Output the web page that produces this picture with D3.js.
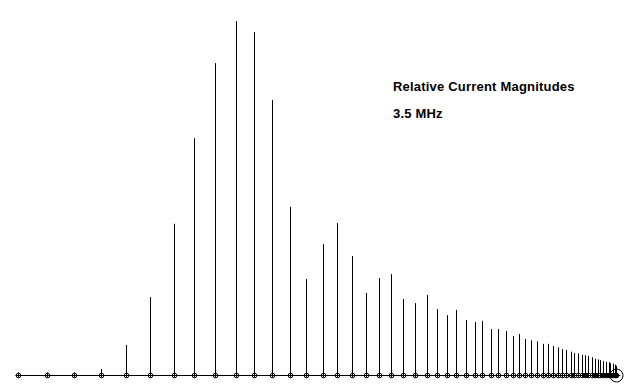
<!DOCTYPE html>
<html>
<head>
<meta charset="utf-8">
<script src="https://cdn.jsdelivr.net/npm/d3@7"></script>
<style>
  body { margin: 0; background: #fff; }
  svg { display: block; }
  .label { font-family: "Liberation Sans", Arial, sans-serif; font-weight: bold; font-size: 13px; letter-spacing: 0.2px; fill: #000; }
</style>
</head>
<body>
<div id="vis-container"></div>
<script>
// element positions along the boom (% of boom length)
var positions = [0, 4.9, 9.4, 13.9, 18.1, 22.1, 26.0, 29.5, 33.0, 36.4,
    39.5, 42.5, 45.5, 48.2, 50.9, 53.4, 55.9, 58.2, 60.4, 62.4,
    64.4, 66.4, 68.3, 70.0, 71.7, 73.2, 74.8, 76.3, 77.6, 79.0,
    80.2, 81.5, 82.7, 83.8, 84.8, 85.8, 86.7, 87.7, 88.6, 89.4,
    90.2, 90.9, 91.6, 92.4, 93.0, 93.6, 94.2, 94.8, 95.3, 95.9,
    96.4, 96.9, 97.3, 97.8, 98.3, 98.7, 99.0, 99.4, 99.7, 100];

// relative current magnitude of each element
var magnitudes = [0, 0, 0, 0.017, 0.085, 0.220, 0.427, 0.669, 0.881, 1.000,
    0.969, 0.777, 0.475, 0.271, 0.370, 0.429, 0.336, 0.232, 0.274, 0.285,
    0.215, 0.203, 0.226, 0.186, 0.169, 0.184, 0.155, 0.150, 0.153, 0.130,
    0.130, 0.124, 0.110, 0.116, 0.102, 0.098, 0.095, 0.088, 0.088, 0.082,
    0.078, 0.073, 0.071, 0.066, 0.062, 0.061, 0.057, 0.056, 0.054, 0.050,
    0.046, 0.044, 0.042, 0.039, 0.037, 0.036, 0.033, 0.032, 0.029, 0.026];

var titleLines = ["Relative Current Magnitudes", "3.5 MHz"];
var feedIndex = positions.length - 1;

var width = 631, height = 387;
var baseY = 375;

var xScale = d3.scaleLinear().domain([0, 100]).range([18, 616.3]);
var yScale = d3.scaleLinear().domain([0, 1]).range([baseY, 21]);

var svg = d3.select("#vis-container")
  .append("svg")
    .attr("width", width)
    .attr("height", height);

var data = positions.map(function (p, i) { return { pos: p, mag: magnitudes[i] }; });

// baseline (boom)
svg.append("line")
    .attr("x1", xScale(0) - 2.5)
    .attr("x2", xScale(100) + 4)
    .attr("y1", baseY + 0.5)
    .attr("y2", baseY + 0.5)
    .attr("stroke", "#000")
    .attr("stroke-width", 1);

// current bars
svg.selectAll(".bar")
  .data(data)
  .enter().append("line")
    .attr("class", "bar")
    .attr("x1", function (d) { return Math.round(xScale(d.pos)) + 0.5; })
    .attr("x2", function (d) { return Math.round(xScale(d.pos)) + 0.5; })
    .attr("y1", baseY + 2.5)
    .attr("y2", function (d) { return Math.min(yScale(d.mag), baseY - 2.5); })
    .attr("stroke", "#000")
    .attr("stroke-width", 1);

// element markers
svg.selectAll(".elem")
  .data(data)
  .enter().append("circle")
    .attr("class", "elem")
    .attr("cx", function (d) { return Math.round(xScale(d.pos)) + 0.5; })
    .attr("cy", baseY + 0.5)
    .attr("r", 2.3)
    .attr("fill", "none")
    .attr("stroke", "#000")
    .attr("stroke-width", 1);

// feed point
svg.append("circle")
    .attr("cx", Math.round(xScale(positions[feedIndex])) + 0.5)
    .attr("cy", baseY + 0.5)
    .attr("r", 6.5)
    .attr("fill", "none")
    .attr("stroke", "#000")
    .attr("stroke-width", 1);

svg.selectAll(".label")
  .data(titleLines)
  .enter().append("text")
    .attr("class", "label")
    .attr("x", 393)
    .attr("y", function (d, i) { return 91 + i * 27; })
    .text(function (d) { return d; });
</script>
</body>
</html>
